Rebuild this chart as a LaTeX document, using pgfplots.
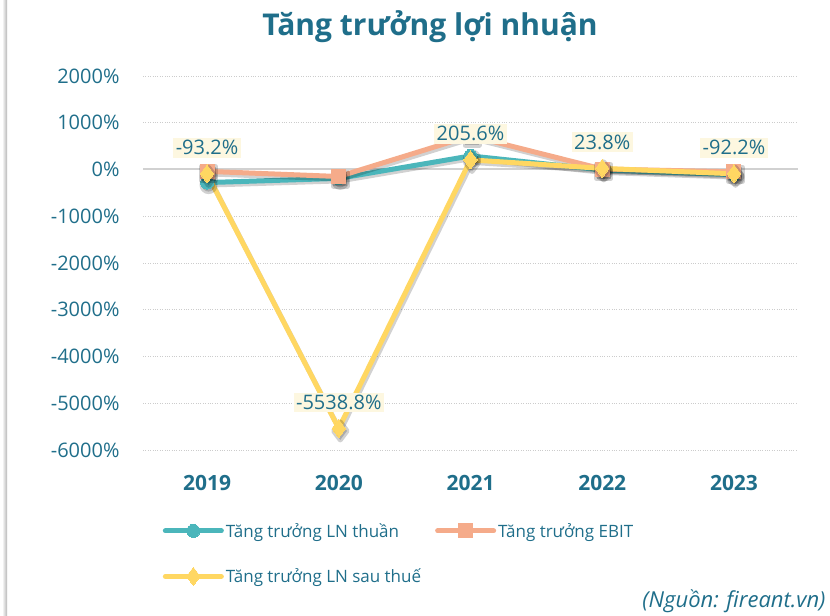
\documentclass[border=0pt]{standalone}
\usepackage{pgfplots}
\pgfplotsset{compat=1.18}
\usepackage{fontspec}
\setmainfont{Open Sans}
\definecolor{tealc}{HTML}{4BB6BB}
\definecolor{salmonc}{HTML}{F5AB8A}
\definecolor{yellowc}{HTML}{FFD762}
\definecolor{txt}{HTML}{1F6E8A}
\definecolor{lblbg}{HTML}{FDF7E0}
\begin{document}
\begin{tikzpicture}[x=1bp,y=1bp]
\path[use as bounding box] (0,0) rectangle (830,616);
\shade[left color=white, right color=black!28] (2,0) rectangle (7,616);
\node[font=\fontsize{30bp}{36bp}\selectfont\bfseries, text=txt] at (430,589) {Tăng trưởng lợi nhuận};
\node[font=\fontsize{22bp}{26bp}\selectfont\itshape, text=txt, anchor=east] at (829,15) {(Nguồn: fireant.vn)};
\begin{axis}[
  at={(143bp,166bp)}, anchor=south west,
  scale only axis, width=655bp, height=374bp,
  xmin=-0.486, xmax=4.486, ymin=-6000, ymax=2000,
  axis line style={draw=none}, tick style={draw=none},
  xtick={0,1,2,3,4}, xticklabels={2019,2020,2021,2022,2023},
  ytick={-6000,-5000,...,2000},
  yticklabels={-6000\%,-5000\%,-4000\%,-3000\%,-2000\%,-1000\%,0\%,1000\%,2000\%},
  yticklabel style={font=\fontsize{20bp}{24bp}\selectfont, text=txt, xshift=-20bp},
  xticklabel style={font=\fontsize{21bp}{25bp}\selectfont\bfseries, text=txt, yshift=-22bp},
  ymajorgrids, grid style={dotted, black!20, line width=0.6bp},
  clip=false,
  legend columns=2,
  legend cell align=left,
  legend style={draw=none, fill=none, at={(0.03,-0.19)}, anchor=north west,
    font=\fontsize{17bp}{21bp}\selectfont, text=txt, inner sep=0pt,
    /tikz/every even column/.append style={column sep=12bp},
    row sep=26bp},
  legend image code/.code={\draw[mark repeat=2,mark phase=2,#1] plot coordinates {(0bp,0bp) (28bp,0bp) (56bp,0bp)};},
  every axis plot/.append style={line join=round, line cap=round},
]
\draw[black!18, line width=2bp] (axis cs:-0.486,0) -- (axis cs:4.486,0);
% shadows
\addplot[forget plot, black, opacity=0.18, line width=5bp, xshift=1.5bp, yshift=-2.5bp, mark=*, mark size=6.5bp]
  coordinates {(0,-280) (1,-190) (2,290) (3,-10) (4,-110)};
\addplot[color=tealc, line width=5bp, mark=*, mark size=6.5bp, mark options={fill=tealc, draw=tealc, line width=0bp}]
  coordinates {(0,-280) (1,-190) (2,290) (3,-10) (4,-110)};
\addlegendentry{Tăng trưởng LN thuần}
\addplot[forget plot, black, opacity=0.18, line width=5bp, xshift=1.5bp, yshift=-2.5bp, mark=square*, mark size=7bp]
  coordinates {(0,-40) (1,-150) (2,720) (3,10) (4,-50)};
\addplot[color=salmonc, line width=5bp, mark=square*, mark size=7bp, mark options={fill=salmonc, draw=salmonc, line width=0bp}]
  coordinates {(0,-40) (1,-150) (2,720) (3,10) (4,-50)};
\addlegendentry{Tăng trưởng EBIT}
\addplot[forget plot, black, opacity=0.18, line width=5bp, xshift=1.5bp, yshift=-2.5bp, mark=diamond*, mark size=9bp]
  coordinates {(0,-93.2) (1,-5538.8) (2,205.6) (3,23.8) (4,-92.2)};
\addplot[color=yellowc, line width=5bp, mark=diamond*, mark size=9bp, mark options={fill=yellowc, draw=yellowc, line width=0bp},
  nodes near coords, point meta=explicit symbolic,
  every node near coord/.append style={anchor=center, yshift=26bp, fill=lblbg, text=txt, inner sep=2.5bp,
    font=\fontsize{20bp}{24bp}\selectfont}]
  coordinates {(0,-93.2) [-93.2\%] (1,-5538.8) [-5538.8\%] (2,205.6) [205.6\%] (3,23.8) [23.8\%] (4,-92.2) [-92.2\%]};
\addlegendentry{Tăng trưởng LN sau thuế}
\end{axis}
\end{tikzpicture}
\end{document}
